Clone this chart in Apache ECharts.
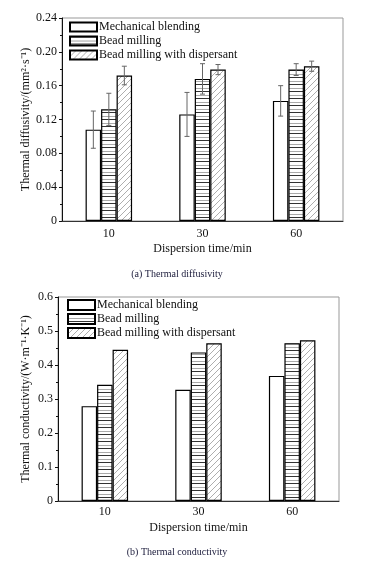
<!DOCTYPE html>
<html><head><meta charset="utf-8">
<script src="https://cdn.jsdelivr.net/npm/echarts@6/dist/echarts.min.js"></script>
<style>html,body{margin:0;padding:0;background:#fff}#c{width:376px;height:568px}</style>
</head><body><div id="c"></div>
<script>
const categories = ['10', '30', '60'];
const seriesNames = ['Mechanical blending', 'Bead milling', 'Bead milling with dispersant'];
// (a) Thermal diffusivity, mm^2/s
const diffMech = [0.108, 0.126, 0.142];
const diffBead = [0.132, 0.168, 0.179];
const diffDisp = [0.172, 0.179, 0.183];
const diffMechErr = [0.022, 0.026, 0.018];
const diffBeadErr = [0.019, 0.018, 0.007];
const diffDispErr = [0.011, 0.006, 0.006];
// (b) Thermal conductivity, W/(m K)
const condMech = [0.279, 0.327, 0.368];
const condBead = [0.342, 0.437, 0.464];
const condDisp = [0.445, 0.464, 0.473];
const yTicksA = ['0', '0.04', '0.08', '0.12', '0.16', '0.20', '0.24'];
const yTicksB = ['0', '0.1', '0.2', '0.3', '0.4', '0.5', '0.6'];

const FONT = 'Liberation Serif';

function hPattern() {
  const c = document.createElement('canvas'); c.width = 4; c.height = 7;
  const x = c.getContext('2d');
  x.fillStyle = '#fff'; x.fillRect(0, 0, 4, 7);
  x.fillStyle = '#333'; x.fillRect(0, 0, 4, 1);
  x.fillStyle = '#aaa'; x.fillRect(0, 4, 4, 1);
  return c;
}
function dPattern() {
  const c = document.createElement('canvas'); c.width = 6; c.height = 6;
  const x = c.getContext('2d');
  x.fillStyle = '#fff'; x.fillRect(0, 0, 6, 6);
  x.strokeStyle = '#999'; x.lineWidth = 0.8;
  x.beginPath();
  x.moveTo(0, 6); x.lineTo(6, 0);
  x.moveTo(-1, 1); x.lineTo(1, -1);
  x.moveTo(5, 7); x.lineTo(7, 5);
  x.stroke();
  return c;
}
const fills = ['#ffffff', { image: hPattern(), repeat: 'repeat' }, { image: dPattern(), repeat: 'repeat' }];
const BW = 15.5;

const chart = echarts.init(document.getElementById('c'), null, { renderer: 'canvas' });

function xAxis(gi, margin, nameGap) {
  return {
    type: 'category', gridIndex: gi, data: categories,
    axisLine: { lineStyle: { color: '#333', width: 1 } },
    axisTick: { show: false },
    axisLabel: { fontFamily: FONT, fontSize: 12, color: '#111', margin: margin },
    name: 'Dispersion time/min', nameLocation: 'middle', nameGap: nameGap, nameMoveOverlap: false,
    nameTextStyle: { fontFamily: FONT, fontSize: 12, color: '#111' }
  };
}
function yAxis(gi, max, interval, ticks, name, nameGap) {
  return {
    type: 'value', gridIndex: gi, min: 0, max: max, interval: interval,
    axisLine: { show: true, lineStyle: { color: '#111', width: 1 } },
    axisTick: { show: true, inside: false, length: 3, lineStyle: { color: '#111' } },
    minorTick: { show: true, splitNumber: 2, length: 2, lineStyle: { color: '#111' } },
    splitLine: { show: false },
    axisLabel: { fontFamily: FONT, fontSize: 12, color: '#111', margin: 5,
      formatter: function (v) { return ticks[Math.round(v / interval)]; } },
    name: name, nameLocation: 'middle', nameGap: nameGap, nameRotate: 90, nameMoveOverlap: false,
    nameTextStyle: { fontFamily: FONT, fontSize: 12, color: '#111' }
  };
}
function bars(gi, data) {
  return data.map(function (d, i) {
    return {
      type: 'bar', name: seriesNames[i], xAxisIndex: gi, yAxisIndex: gi, data: d,
      barWidth: BW, barGap: '0%',
      itemStyle: { color: fills[i], borderColor: '#000', borderWidth: 1.2 },
      emphasis: { disabled: true }, z: 2
    };
  });
}
const errSets = [[diffMech, diffMechErr], [diffBead, diffBeadErr], [diffDisp, diffDispErr]];
const errData = [];
errSets.forEach(function (s, si) {
  s[0].forEach(function (v, ci) { errData.push([ci, v, s[1][ci], si]); });
});

const errSeries = {
  type: 'custom', xAxisIndex: 0, yAxisIndex: 0, z: 5, silent: true,
  data: errData,
  renderItem: function (params, api) {
    const ci = api.value(0), v = api.value(1), e = api.value(2), si = api.value(3);
    const off = (si - 1) * BW;
    const top = api.coord([ci, v + e]);
    const bot = api.coord([ci, v - e]);
    const x = top[0] + off;
    const cap = 2.5;
    const st = { stroke: '#666', lineWidth: 1, fill: null };
    return { type: 'group', children: [
      { type: 'line', shape: { x1: x, y1: top[1], x2: x, y2: bot[1] }, style: st },
      { type: 'line', shape: { x1: x - cap, y1: top[1], x2: x + cap, y2: top[1] }, style: st },
      { type: 'line', shape: { x1: x - cap, y1: bot[1], x2: x + cap, y2: bot[1] }, style: st }
    ] };
  }
};

function legend(gi, left, top, h) {
  return {
    data: seriesNames.map(function (n) { return { name: n, icon: 'rect' }; }),
    orient: 'vertical', left: left, top: top, itemWidth: 27, itemHeight: h, itemGap: 0, padding: 0,
    textStyle: { fontFamily: FONT, fontSize: 12, color: '#111', lineHeight: 14, padding: [0, 0, 0, -3] },
    selectedMode: false
  };
}

chart.setOption({
  animation: false,
  backgroundColor: '#fff',
  title: [
    { text: '(a) Thermal diffusivity', left: 177, top: 269, textAlign: 'center', padding: 0,
      textStyle: { fontFamily: FONT, fontSize: 10, fontWeight: 'normal', color: '#1a1a3a' } },
    { text: '(b) Thermal conductivity', left: 177, top: 547, textAlign: 'center', padding: 0,
      textStyle: { fontFamily: FONT, fontSize: 10, fontWeight: 'normal', color: '#1a1a3a' } }
  ],
  grid: [
    { left: 62, top: 18, width: 281, height: 203, show: true, borderColor: '#999', borderWidth: 1, backgroundColor: 'transparent' },
    { left: 58, top: 297, width: 281, height: 204, show: true, borderColor: '#999', borderWidth: 1, backgroundColor: 'transparent' }
  ],
  legend: [legend(0, 69, 20, 9), legend(1, 67, 298, 10)],
  xAxis: [xAxis(0, 7, 22), xAxis(1, 5, 21)],
  yAxis: [
    yAxis(0, 0.24, 0.04, yTicksA, 'Thermal diffusivity/(mm²·s⁻¹)', 30),
    yAxis(1, 0.6, 0.1, yTicksB, 'Thermal conductivity/(W·m⁻¹·K⁻¹)', 26)
  ],
  series: bars(0, [diffMech, diffBead, diffDisp])
    .concat(bars(1, [condMech, condBead, condDisp]))
    .concat([errSeries])
});
</script></body></html>
